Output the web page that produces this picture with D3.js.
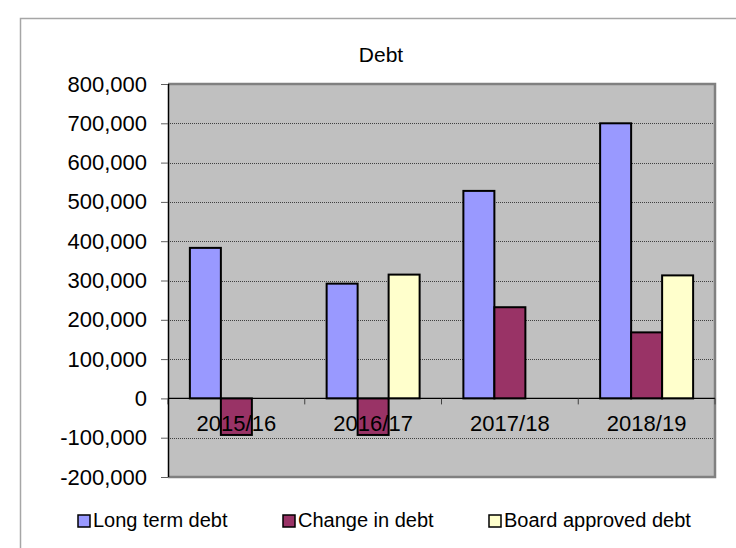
<!DOCTYPE html>
<html>
<head>
<meta charset="utf-8">
<script src="https://cdn.jsdelivr.net/npm/d3@7"></script>
<style>
  body { margin: 0; background: #fff; }
  svg text { font-family: "Liberation Sans", Arial, sans-serif; fill: #000; }
</style>
</head>
<body>
<svg id="chart" width="736" height="548"></svg>
<script>
  // chart data
  const categories = ["2015/16", "2016/17", "2017/18", "2018/19"]
  const seriesNames = ["Long term debt", "Change in debt", "Board approved debt"]
  const seriesColors = ["#9999ff", "#993366", "#ffffcc"]
  const longTermDebt = [383000, 292000, 528000, 700000]
  const changeInDebt = [-93000, -93000, 232000, 168000]
  const boardApproved = [null, 315000, null, 313000]
  const yTicks = [-200000, -100000, 0, 100000, 200000, 300000, 400000, 500000, 600000, 700000, 800000]

  const seriesValues = [longTermDebt, changeInDebt, boardApproved]

  const width = 736
  const height = 548
  const plot = { left: 168, right: 715, top: 84, bottom: 477 }

  const svg = d3.select("#chart")

  // outer chart frame (right/bottom fall outside the window)
  svg.append("rect")
      .attr("x", 20.5)
      .attr("y", 18.5)
      .attr("width", width)
      .attr("height", height)
      .attr("fill", "none")
      .attr("stroke", "#a6a6a6")
      .attr("stroke-width", 1.5)

  const x = d3.scaleBand()
      .domain(categories)
      .range([plot.left, plot.right])
      .paddingInner(0.32)
      .paddingOuter(0.16)

  const xs = d3.scaleBand()
      .domain(seriesNames)
      .range([0, x.bandwidth()])

  const y = d3.scaleLinear()
      .domain([-200000, 800000])
      .range([plot.bottom, plot.top])

  const fmt = d3.formatLocale({ decimal: ".", thousands: ",", grouping: [3], currency: ["", ""], minus: "-" }).format(",")

  // plot background
  svg.append("rect")
      .attr("x", plot.left)
      .attr("y", plot.top)
      .attr("width", plot.right - plot.left)
      .attr("height", plot.bottom - plot.top)
      .attr("fill", "#c0c0c0")

  // gridlines
  svg.append("g")
      .selectAll("line")
      .data(yTicks.filter(d => d !== 0 && d !== 800000 && d !== -200000))
      .enter().append("line")
      .attr("x1", plot.left)
      .attr("x2", plot.right)
      .attr("y1", d => Math.round(y(d)) + 0.5)
      .attr("y2", d => Math.round(y(d)) + 0.5)
      .attr("stroke", "#404040")
      .attr("stroke-width", 1)
      .attr("stroke-dasharray", "1,1")

  // plot border: top, right, bottom in gray
  svg.append("path")
      .attr("d", `M${plot.left},${plot.top}H${plot.right}V${plot.bottom}H${plot.left}`)
      .attr("fill", "none")
      .attr("stroke", "#808080")
      .attr("stroke-width", 2.5)

  // bars
  const bars = []
  seriesNames.forEach((name, si) => {
    categories.forEach((cat, ci) => {
      const v = seriesValues[si][ci]
      if (v !== null) bars.push({ name, cat, value: v, color: seriesColors[si] })
    })
  })

  svg.append("g")
      .selectAll("rect")
      .data(bars)
      .enter().append("rect")
      .attr("x", d => x(d.cat) + xs(d.name))
      .attr("y", d => y(Math.max(0, d.value)))
      .attr("width", xs.bandwidth())
      .attr("height", d => Math.abs(y(d.value) - y(0)))
      .attr("fill", d => d.color)
      .attr("stroke", "#000")
      .attr("stroke-width", 2)

  // zero line with category ticks
  svg.append("line")
      .attr("x1", plot.left)
      .attr("x2", plot.right)
      .attr("y1", y(0))
      .attr("y2", y(0))
      .attr("stroke", "#000")
      .attr("stroke-width", 1.2)

  const boundaries = categories.map(c => x(c) - x.step() * 0.16).concat([plot.right])
  svg.append("g")
      .selectAll("line")
      .data(boundaries)
      .enter().append("line")
      .attr("x1", d => d)
      .attr("x2", d => d)
      .attr("y1", y(0))
      .attr("y2", y(0) + 6)
      .attr("stroke", "#404040")
      .attr("stroke-width", 1)

  // category labels
  svg.append("g")
      .selectAll("text")
      .data(categories)
      .enter().append("text")
      .attr("x", d => x(d) + x.bandwidth() / 2)
      .attr("y", y(0) + 33)
      .attr("text-anchor", "middle")
      .attr("font-size", 22)
      .text(d => d)

  // y axis
  const yAxis = svg.append("g")
      .attr("transform", `translate(${plot.left},0)`)
      .call(d3.axisLeft(y).tickValues(yTicks).tickFormat(fmt).tickSize(7).tickPadding(14))
  yAxis.select(".domain").attr("stroke", "#000").attr("stroke-width", 1.5).attr("d", `M0.5,${plot.top}V${plot.bottom}`)
  yAxis.selectAll(".tick line").attr("stroke", "#606060")
  yAxis.selectAll(".tick text")
      .attr("font-size", 22)
      .attr("font-family", "'Liberation Sans', Arial, sans-serif")
      .attr("fill", "#000")

  // title
  svg.append("text")
      .attr("x", 381)
      .attr("y", 62)
      .attr("text-anchor", "middle")
      .attr("font-size", 21)
      .text("Debt")

  // legend
  const legendX = [78, 283, 489]
  const legend = svg.append("g")
  const items = legend.selectAll("g")
      .data(seriesNames)
      .enter().append("g")
      .attr("transform", (d, i) => `translate(${legendX[i]}, 515)`)
  items.append("rect")
      .attr("width", 12)
      .attr("height", 12)
      .attr("fill", (d, i) => seriesColors[i])
      .attr("stroke", "#000")
      .attr("stroke-width", 1.5)
  items.append("text")
      .attr("x", 15)
      .attr("y", 12)
      .attr("font-size", 20)
      .text(d => d)
</script>
</body>
</html>
